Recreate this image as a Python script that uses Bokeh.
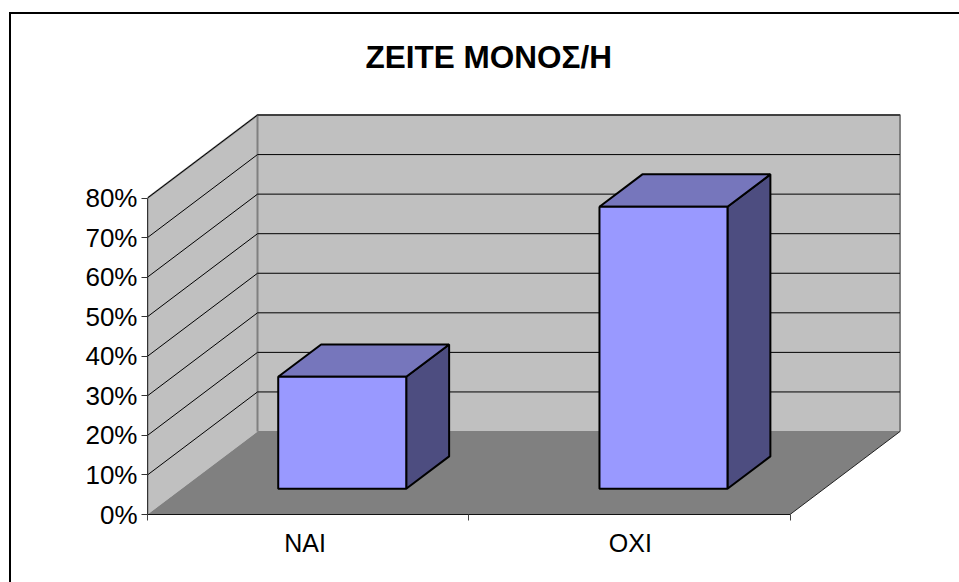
from bokeh.plotting import figure
from bokeh.embed import file_html
from bokeh.resources import INLINE
from bokeh.models import FixedTicker, NumeralTickFormatter, Range1d, Title

title_text = "ΖΕΙΤΕ ΜΟΝΟΣ/Η"
categories = ["ΝΑΙ", "ΟΧΙ"]
values = [0.283, 0.713]
y_ticks = [0.0, 0.1, 0.2, 0.3, 0.4, 0.5, 0.6, 0.7, 0.8]

WALL = "#C0C0C0"
FLOOR = "#808080"
FRONT = "#9999FF"
TOP = "#7676BC"
SIDE = "#4D4D80"
FONT = "Liberation Sans"

PX_X = 321.25          # pixels per category
PX_Y = 395.6           # pixels per unit of value
DEPTH_X = 110 / PX_X   # oblique projection of the full depth
DEPTH_Y = 83 / PX_Y
BAR_HALF = 64 / PX_X
BAR_D0, BAR_D1 = 0.31, 0.70
LABEL_SHIFT = (-3 / PX_X, 1 / PX_X)
FRAME_W, FRAME_H = 756, 407
n = len(categories)
vmax = y_ticks[-1]


def proj(x, v, d):
    return x + d * DEPTH_X, v + d * DEPTH_Y


def poly(points):
    pts = [proj(*q) for q in points]
    return [a for a, _ in pts], [b for _, b in pts]


p = figure(
    frame_width=FRAME_W, frame_height=FRAME_H,
    x_range=Range1d(0, FRAME_W / PX_X), y_range=Range1d(0, FRAME_H / PX_Y),
    min_border_left=138, min_border_top=106, min_border_right=56, min_border_bottom=68,
    output_backend="svg", toolbar_location=None, title=None,
    border_fill_color=None, background_fill_color=None,
    styles={"margin-top": "1px", "margin-left": "9px",
            "background-image": "linear-gradient(#000,#000), linear-gradient(#000,#000)",
            "background-position": "0 11px, 0 11px",
            "background-size": "100% 2px, 2px 100%",
            "background-repeat": "no-repeat, no-repeat"},
)
p.outline_line_color = None
p.grid.visible = False
p.add_layout(Title(text=title_text, align="left", offset=218, standoff=65,
                   text_font=FONT, text_font_size="31.5px", text_font_style="bold",
                   text_color="#000000"), "above")

# walls and floor
x, y = poly([(0, 0, 0), (0, vmax, 0), (0, vmax, 1), (0, 0, 1)])
p.patch(x, y, fill_color=WALL, line_color=None)
x, y = poly([(0, 0, 1), (0, vmax, 1), (n, vmax, 1), (n, 0, 1)])
p.patch(x, y, fill_color=WALL, line_color=None)
x, y = poly([(0, 0, 0), (0, 0, 1), (n, 0, 1), (n, 0, 0)])
p.patch(x, y, fill_color=FLOOR, line_color=None)

# wall edges
x, y = poly([(0, 0, 0), (0, vmax, 0), (0, vmax, 1), (n, vmax, 1), (n, 0, 1)])
p.line(x, y, line_color=FLOOR, line_width=2)
x, y = poly([(0, 0, 1), (0, vmax, 1)])
p.line(x, y, line_color=FLOOR, line_width=2)
x, y = poly([(0, 0, 1), (n, 0, 1)])
p.line(x, y, line_color=FLOOR, line_width=1)

# gridlines on both walls
for t in y_ticks[1:]:
    x, y = poly([(0, t, 0), (0, t, 1), (n, t, 1)])
    p.line(x, y, line_color="#000000", line_width=1)

# right-hand edge of the floor
x, y = poly([(n, 0, 0), (n, 0, 1)])
p.line(x, y, line_color="#222222", line_width=1)

# bars
for i, v in enumerate(values):
    c = i + 0.5
    l, r = c - BAR_HALF, c + BAR_HALF
    x, y = poly([(r, 0, BAR_D0), (r, v, BAR_D0), (r, v, BAR_D1), (r, 0, BAR_D1)])
    p.patch(x, y, fill_color=SIDE, line_color="#000000", line_width=2)
    x, y = poly([(l, v, BAR_D0), (r, v, BAR_D0), (r, v, BAR_D1), (l, v, BAR_D1)])
    p.patch(x, y, fill_color=TOP, line_color="#000000", line_width=2)
    x, y = poly([(l, 0, BAR_D0), (r, 0, BAR_D0), (r, v, BAR_D0), (l, v, BAR_D0)])
    p.patch(x, y, fill_color=FRONT, line_color="#000000", line_width=2)

# axes
label_pos = [i + 0.5 + LABEL_SHIFT[i] for i in range(n)]
xa = p.xaxis[0]
xa.ticker = FixedTicker(ticks=label_pos, minor_ticks=list(range(n + 1)))
xa.major_label_overrides = {pos: c for pos, c in zip(label_pos, categories)}
xa.bounds = (0, n)
xa.major_tick_in = 0
xa.major_tick_out = 0
xa.minor_tick_in = 0
xa.minor_tick_out = 6
xa.major_label_standoff = 8
xa.major_label_text_font = FONT
xa.major_label_text_font_size = "25px"
xa.major_label_text_color = "#000000"
xa.axis_line_color = "#111111"
xa.minor_tick_line_color = "#444444"

ya = p.yaxis[0]
ya.ticker = FixedTicker(ticks=y_ticks)
ya.formatter = NumeralTickFormatter(format="0%")
ya.bounds = (0, vmax)
ya.major_tick_in = 0
ya.major_tick_out = 6
ya.minor_tick_in = 0
ya.minor_tick_out = 0
ya.major_label_standoff = 4
ya.major_label_text_font = FONT
ya.major_label_text_font_size = "26px"
ya.major_label_text_color = "#000000"
ya.axis_line_color = "#333333"
ya.major_tick_line_color = "#333333"

open("out.html", "w").write(file_html(p, INLINE))
